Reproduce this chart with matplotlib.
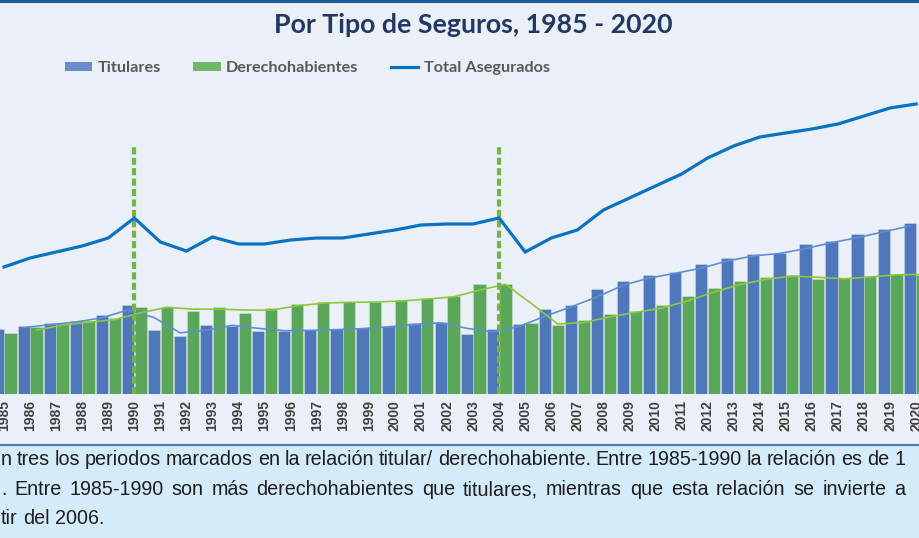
import matplotlib
matplotlib.use('Agg')
import matplotlib.pyplot as plt
import numpy as np
import pandas as pd
from matplotlib import font_manager as fm
from matplotlib.patches import Rectangle, Patch
from matplotlib.lines import Line2D

# ---------------- data ----------------
years = list(range(1985, 2021))
titulares = [647, 680, 707, 733, 790, 890, 640, 583, 693, 680, 633, 633, 640, 647,
             660, 683, 707, 717, 597, 647, 703, 850, 893, 1047, 1127, 1193, 1220,
             1297, 1363, 1400, 1410, 1497, 1530, 1597, 1647, 1713]
derechohabientes = [607, 670, 707, 730, 757, 867, 867, 830, 867, 813, 863, 900, 917,
                    917, 923, 937, 963, 980, 1097, 1097, 710, 690, 740, 800, 833, 887,
                    977, 1063, 1127, 1170, 1187, 1147, 1157, 1183, 1200, 1193]
total_asegurados = [1270, 1360, 1420, 1480, 1560, 1760, 1520, 1430, 1570, 1500, 1500,
                    1540, 1560, 1560, 1600, 1640, 1690, 1700, 1700, 1760, 1420, 1560,
                    1640, 1840, 1960, 2080, 2200, 2360, 2480, 2570, 2610, 2650, 2700,
                    2780, 2860, 2900]
marked_years = [1990, 2004]
marker_top = 2470
series_labels = ["Titulares", "Derechohabientes", "Total Asegurados"]
title = "Por Tipo de Seguros, 1985 - 2020"
note_lines = [
    "n tres los periodos marcados en la relación titular/ derechohabiente. Entre 1985-1990 la relación es de 1",
    ". Entre 1985-1990 son más derechohabientes que titulares, mientras que esta relación se invierte a",
    "tir del 2006.",
]

# ---------------- style ----------------
BG = '#EBF0F8'
NOTE_BG = '#D4EBFA'
BLUE = '#4F78BA'
GREEN = '#5AA65A'
LINE = '#0A72C3'
TREND_B = '#5F8FD2'
TREND_G = '#8CC83C'
DASH = '#72B446'
TITLE_C = '#1F3864'

def has_font(name):
    try:
        fm.findfont(fm.FontProperties(family=name), fallback_to_default=False)
        return True
    except Exception:
        return False

NARROW = 'Liberation Sans Narrow' if has_font('Liberation Sans Narrow') else 'Liberation Sans'
SANS = 'Lato' if has_font('Lato') else 'DejaVu Sans'

W, H, DPI = 919, 538, 100
fig = plt.figure(figsize=(W / DPI, H / DPI), dpi=DPI, facecolor=BG)

def fx(px):
    return px / W

def fy(py):
    return 1 - py / H

# top dark band
fig.add_artist(Rectangle((0, fy(3)), 1, 3 / H, transform=fig.transFigure,
                         facecolor='#1D5A9A', edgecolor='none'))
# note box
fig.add_artist(Rectangle((0, 0), 1, fy(445), transform=fig.transFigure,
                         facecolor=NOTE_BG, edgecolor='none', zorder=0))
fig.add_artist(Line2D([0, 1], [fy(445), fy(445)], transform=fig.transFigure,
                      color='#4A7EBB', lw=1.6))

# ---------------- axes ----------------
base_px, top_px = 394, 90
ax = fig.add_axes([0, fy(base_px), 1, fy(top_px) - fy(base_px)])
ax.set_facecolor('none')
step = 26.06
x0px = 4
ax.set_xlim(-x0px / step, (W - x0px) / step)
ax.set_ylim(0, (base_px - top_px) * 10)

x = np.arange(len(years))
off, bw = 0.245, 0.47
ax.bar(x - off, titulares, width=bw, color=BLUE, edgecolor=(1, 1, 1, 0.35), lw=0.5,
       zorder=2, label=series_labels[0])
ax.bar(x + off, derechohabientes, width=bw, color=GREEN, edgecolor=(1, 1, 1, 0.35),
       lw=0.5, zorder=2, label=series_labels[1])

tb = pd.Series(titulares, dtype=float).rolling(2).mean()
tg = pd.Series(derechohabientes, dtype=float).rolling(2).mean()
ax.plot(x[1:] - off, tb[1:], color=TREND_B, lw=1.2, zorder=3)
ax.plot(x[1:] + off, tg[1:], color=TREND_G, lw=1.2, zorder=3)

ax.plot(x, total_asegurados, color=LINE, lw=2.3, zorder=5, solid_joinstyle='miter',
        label=series_labels[2])

for yr in marked_years:
    i = years.index(yr)
    ax.plot([i, i], [0, marker_top], color=DASH, lw=3, dashes=(1.7, 0.8), zorder=4)

for s in ax.spines.values():
    s.set_visible(False)
ax.set_yticks([])
ax.set_xticks(x)
ax.set_xticklabels([str(y) for y in years], rotation=90, fontsize=10,
                   family=NARROW, fontweight='bold', color='#404040')
ax.tick_params(axis='x', length=0, pad=4.3)

# ---------------- legend ----------------
handles = [Patch(facecolor='#6A8CC8', edgecolor='none'),
           Patch(facecolor='#6CB96C', edgecolor='none'),
           Line2D([0], [0], color=LINE, lw=2.3)]
leg = fig.legend(handles, series_labels, loc='center left',
                 bbox_to_anchor=(fx(65), fy(68)), ncol=3, frameon=False,
                 borderpad=0, borderaxespad=0, handlelength=1.68, handleheight=0.5,
                 handletextpad=0.33, columnspacing=2.0,
                 prop=dict(family=SANS, weight='bold', size=11.7))
for t in leg.get_texts():
    t.set_color('#595959')

# ---------------- title ----------------
tt = fig.text(fx(473), fy(33), title, ha='center', va='baseline', fontsize=19,
              fontweight='bold', color=TITLE_C, family=SANS)

fig.canvas.draw()
r = fig.canvas.get_renderer()
wt = tt.get_window_extent(r).width
tt.set_fontsize(19 * 398 / wt)

# ---------------- note (justified) ----------------
x_left, x_right = 1, 905
fs0 = 11
probe = [fig.text(0, 0, w, fontsize=fs0, family=NARROW) for w in note_lines[0].split(' ')]
fig.canvas.draw()
sumw = sum(t.get_window_extent(r).width for t in probe)
for t in probe:
    t.remove()
ngaps = len(note_lines[0].split(' ')) - 1
space_em = 0.26
fs = fs0 * (x_right - x_left) / (sumw + ngaps * space_em * fs0 * DPI / 72)

note_kw = dict(fontsize=fs, family=NARROW, color='#1E1E1E', va='baseline', ha='left')
baselines = [465, 495, 524]
justify = [True, True, False]
for line, yb, jus in zip(note_lines, baselines, justify):
    words = line.split(' ')
    texts = [fig.text(0, fy(yb), w, **note_kw) for w in words]
    fig.canvas.draw()
    widths = [t.get_window_extent(r).width for t in texts]
    if jus and len(words) > 1:
        gap = (x_right - x_left - sum(widths)) / (len(words) - 1)
    else:
        gap = space_em * fs * DPI / 72
    xp = x_left
    for t, w in zip(texts, widths):
        t.set_x(fx(xp))
        xp += w + gap

fig.savefig('out.png', dpi=DPI, facecolor=BG)
